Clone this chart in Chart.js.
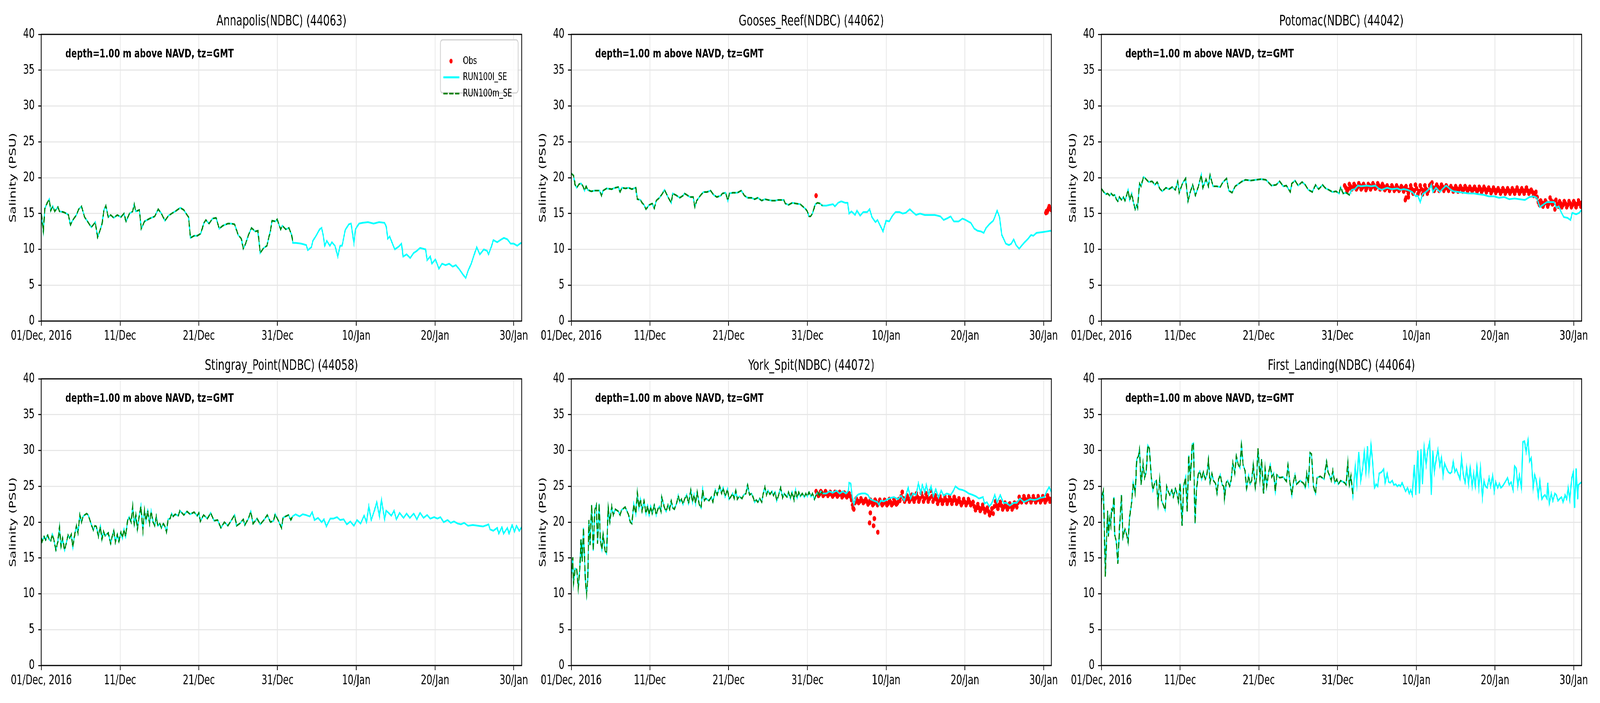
<!DOCTYPE html>
<html>
<head>
<meta charset="utf-8">
<script src="https://cdn.jsdelivr.net/npm/chart.js@4.4.0/dist/chart.umd.min.js"></script>
<style>
html,body{margin:0;padding:0;background:#ffffff;overflow:hidden;}
#wrap{position:absolute;left:0;top:0;width:6000px;height:1800px;overflow:hidden;background:#ffffff;transform-origin:0 0;}
#wrap canvas{position:absolute;}
</style>
</head>
<body>
<div id="wrap"></div>
<script>
// ---------------- DATA (day since 01/Dec/2016 00:00 GMT, salinity PSU) ----------------
const xTickDays = [0, 10, 20, 30, 40, 50, 60];
const xTickLabels = ['01/Dec, 2016', '11/Dec', '21/Dec', '31/Dec', '10/Jan', '20/Jan', '30/Jan'];
const stationTitles = ['Annapolis(NDBC) (44063)', 'Gooses_Reef(NDBC) (44062)', 'Potomac(NDBC) (44042)',
  'Stingray_Point(NDBC) (44058)', 'York_Spit(NDBC) (44072)', 'First_Landing(NDBC) (44064)'];
const seriesNames = ['Obs', 'RUN100l_SE', 'RUN100m_SE'];
const noteText = 'depth=1.00 m above NAVD, tz=GMT';

const annapolisObs = [];
const annapolisRun100l = [[0,15.0],[0.25,12.5],[0.45,15.7],[0.75,16.5],[1.0,17.0],[1.2,15.4],[1.45,16.0],[1.7,15.3],[2.1,15.9],[2.3,15.3],[2.8,15.2],[3.2,15.0],[3.45,14.8],[3.7,13.4],[3.95,14.0],[4.45,14.8],[4.75,15.6],[5.1,16.0],[5.5,14.5],[5.8,14.0],[6.35,13.1],[6.65,13.5],[6.85,13.8],[7.15,11.7],[7.5,12.8],[7.7,13.5],[7.95,15.5],[8.2,16.1],[8.5,14.5],[8.8,14.8],[9.2,14.4],[9.65,14.8],[10.1,14.5],[10.5,15.0],[10.75,13.9],[11.2,15.0],[11.6,15.3],[11.8,16.3],[12.0,15.3],[12.45,15.5],[12.7,12.9],[13.1,13.9],[13.75,14.3],[14.4,14.6],[14.85,15.6],[15.25,15.0],[15.7,14.0],[16.15,14.7],[16.55,15.0],[17.0,15.3],[17.65,15.8],[18.1,15.5],[18.5,14.8],[18.7,14.5],[18.95,11.6],[19.4,11.9],[19.8,11.9],[20.25,12.2],[20.65,13.7],[20.9,14.1],[21.3,13.6],[21.75,14.3],[22.2,14.4],[22.6,12.9],[23.05,13.3],[23.7,13.6],[24.1,13.6],[24.55,13.5],[25.0,12.0],[25.4,11.5],[25.65,10.1],[25.95,10.8],[26.3,12.0],[26.7,13.0],[27.15,12.5],[27.5,12.6],[27.8,9.5],[28.25,10.2],[28.65,10.5],[29.1,12.6],[29.3,14.0],[29.75,13.9],[29.95,14.2],[30.4,12.8],[30.6,13.3],[31.05,12.8],[31.45,13.0],[31.8,12.0],[31.95,10.9],[32.35,10.9],[33.0,10.8],[33.65,10.6],[33.85,9.9],[34.3,10.3],[34.5,11.2],[34.95,12.0],[35.35,12.8],[35.6,13.0],[35.8,12.0],[36.0,10.5],[36.25,11.2],[36.65,10.5],[36.9,11.0],[37.3,10.5],[37.65,9.0],[37.95,10.5],[38.2,10.5],[38.6,12.7],[39.05,13.5],[39.35,13.6],[39.7,10.9],[39.9,12.8],[40.35,13.6],[40.8,13.7],[41.5,13.8],[42.2,13.6],[42.9,13.8],[43.6,13.7],[43.8,13.2],[44.0,11.5],[44.25,11.8],[44.7,10.5],[44.9,10.0],[45.4,10.4],[45.75,10.8],[45.95,9.0],[46.4,9.3],[46.85,8.8],[47.3,9.5],[47.7,9.8],[48.1,10.2],[48.8,10.0],[49.0,8.5],[49.4,9.0],[49.6,8.0],[50.05,8.6],[50.5,7.3],[50.9,8.0],[51.35,7.8],[51.8,8.0],[52.25,7.6],[52.65,7.8],[53.1,7.2],[53.55,6.5],[53.9,6.0],[54.2,7.0],[54.6,8.0],[55.05,9.5],[55.3,10.3],[55.7,9.3],[56.2,10.0],[56.6,9.8],[56.8,9.3],[57.2,10.5],[57.4,11.3],[57.9,11.0],[58.3,11.3],[58.75,11.6],[59.2,11.4],[59.6,10.8],[60.0,10.8],[60.45,10.5],[60.9,10.9],[61.0,10.8]];
const annapolisRun100m = [[0,15.0],[0.25,12.5],[0.45,15.7],[0.75,16.5],[1.0,17.0],[1.2,15.4],[1.45,16.0],[1.7,15.3],[2.1,15.9],[2.3,15.3],[2.8,15.2],[3.2,15.0],[3.45,14.8],[3.7,13.4],[3.95,14.0],[4.45,14.8],[4.75,15.6],[5.1,16.0],[5.5,14.5],[5.8,14.0],[6.35,13.1],[6.65,13.5],[6.85,13.8],[7.15,11.7],[7.5,12.8],[7.7,13.5],[7.95,15.5],[8.2,16.1],[8.5,14.5],[8.8,14.8],[9.2,14.4],[9.65,14.8],[10.1,14.5],[10.5,15.0],[10.75,13.9],[11.2,15.0],[11.6,15.3],[11.8,16.3],[12.0,15.3],[12.45,15.5],[12.7,12.9],[13.1,13.9],[13.75,14.3],[14.4,14.6],[14.85,15.6],[15.25,15.0],[15.7,14.0],[16.15,14.7],[16.55,15.0],[17.0,15.3],[17.65,15.8],[18.1,15.5],[18.5,14.8],[18.7,14.5],[18.95,11.6],[19.4,11.9],[19.8,11.9],[20.25,12.2],[20.65,13.7],[20.9,14.1],[21.3,13.6],[21.75,14.3],[22.2,14.4],[22.6,12.9],[23.05,13.3],[23.7,13.6],[24.1,13.6],[24.55,13.5],[25.0,12.0],[25.4,11.5],[25.65,10.1],[25.95,10.8],[26.3,12.0],[26.7,13.0],[27.15,12.5],[27.5,12.6],[27.8,9.5],[28.25,10.2],[28.65,10.5],[29.1,12.6],[29.3,14.0],[29.75,13.9],[29.95,14.2],[30.4,12.8],[30.6,13.3],[31.05,12.8],[31.45,13.0],[31.8,12.0],[31.95,10.9]];

const goosesObs = [[31.1,17.5],[60.3,15.1],[60.35,15.3],[60.45,15.2],[60.55,15.5],[60.65,15.8],[60.7,16.0],[60.8,15.7],[60.9,15.6],[61.0,15.5]];
const goosesRun100l = [[0,20.6],[0.3,20.3],[0.5,19.0],[0.7,18.6],[1.0,19.1],[1.25,19.2],[1.5,18.8],[1.7,18.2],[1.9,18.8],[2.1,18.3],[2.55,18.1],[3.0,18.2],[3.6,18.2],[3.85,17.5],[4.05,18.2],[4.5,18.5],[5.15,18.4],[5.6,18.6],[6.0,18.7],[6.2,18.0],[6.45,18.6],[6.9,18.5],[7.3,18.6],[7.7,18.4],[8.2,18.6],[8.4,17.0],[8.8,16.9],[9.0,16.5],[9.25,16.2],[9.5,15.6],[9.9,16.2],[10.3,16.4],[10.55,15.7],[10.8,16.8],[11.2,17.2],[11.6,17.8],[11.85,18.3],[12.3,17.3],[12.7,16.5],[12.9,17.8],[13.4,17.5],[13.8,17.2],[14.2,17.5],[14.4,17.8],[15.1,17.3],[15.5,17.3],[15.7,15.9],[15.95,16.8],[16.4,17.5],[16.8,18.0],[17.25,18.0],[17.7,18.2],[18.1,17.6],[18.5,17.3],[19.0,17.5],[19.2,17.8],[19.6,17.9],[19.9,16.8],[20.1,17.8],[20.5,17.9],[21.1,17.9],[21.6,18.2],[22.0,17.5],[22.4,17.2],[22.9,17.2],[23.3,17.0],[23.7,17.2],[24.2,16.8],[24.6,17.0],[25.0,16.9],[25.5,16.8],[25.9,16.8],[26.3,16.9],[27.0,16.9],[27.2,16.4],[27.6,16.2],[28.1,16.5],[28.5,16.4],[29.1,16.3],[29.6,15.8],[29.8,15.6],[30.0,15.3],[30.2,14.6],[30.4,14.6],[30.65,15.0],[31.0,16.3],[31.3,16.5],[31.6,16.4],[31.9,16.1],[32.4,16.1],[32.8,16.2],[33.25,16.3],[33.5,16.0],[33.9,16.5],[34.3,16.7],[34.8,16.5],[35.1,16.5],[35.3,15.0],[35.6,15.3],[36.05,14.8],[36.3,15.4],[36.7,14.7],[37.1,15.2],[37.6,15.2],[37.9,15.6],[38.2,14.5],[38.65,13.8],[38.9,14.1],[39.3,13.2],[39.6,12.5],[40.0,14.0],[40.4,13.9],[40.8,14.7],[41.2,15.2],[41.7,15.2],[42.1,15.0],[42.5,15.1],[43.0,15.6],[43.4,15.2],[43.8,14.8],[44.3,15.0],[44.9,14.8],[45.6,14.8],[46.2,14.8],[46.9,14.6],[47.3,14.1],[47.7,14.3],[48.2,14.6],[48.6,13.9],[49.2,13.9],[49.7,14.3],[50.1,14.1],[50.75,13.7],[51.2,12.9],[51.6,12.6],[52.05,12.5],[52.4,12.3],[52.7,13.0],[53.1,13.5],[53.6,14.0],[53.8,14.5],[54.1,15.4],[54.4,14.5],[54.7,12.0],[55.2,10.8],[55.6,10.6],[55.9,10.8],[56.2,11.4],[56.5,10.6],[56.9,10.1],[57.2,10.5],[57.6,11.0],[58.05,11.5],[58.4,12.0],[58.7,11.9],[59.1,12.3],[59.8,12.4],[60.4,12.5],[60.9,12.6],[61.0,12.5]];
const goosesRun100m = [[0,20.6],[0.3,20.3],[0.5,19.0],[0.7,18.6],[1.0,19.1],[1.25,19.2],[1.5,18.8],[1.7,18.2],[1.9,18.8],[2.1,18.3],[2.55,18.1],[3.0,18.2],[3.6,18.2],[3.85,17.5],[4.05,18.2],[4.5,18.5],[5.15,18.4],[5.6,18.6],[6.0,18.7],[6.2,18.0],[6.45,18.6],[6.9,18.5],[7.3,18.6],[7.7,18.4],[8.2,18.6],[8.4,17.0],[8.8,16.9],[9.0,16.5],[9.25,16.2],[9.5,15.6],[9.9,16.2],[10.3,16.4],[10.55,15.7],[10.8,16.8],[11.2,17.2],[11.6,17.8],[11.85,18.3],[12.3,17.3],[12.7,16.5],[12.9,17.8],[13.4,17.5],[13.8,17.2],[14.2,17.5],[14.4,17.8],[15.1,17.3],[15.5,17.3],[15.7,15.9],[15.95,16.8],[16.4,17.5],[16.8,18.0],[17.25,18.0],[17.7,18.2],[18.1,17.6],[18.5,17.3],[19.0,17.5],[19.2,17.8],[19.6,17.9],[19.9,16.8],[20.1,17.8],[20.5,17.9],[21.1,17.9],[21.6,18.2],[22.0,17.5],[22.4,17.2],[22.9,17.2],[23.3,17.0],[23.7,17.2],[24.2,16.8],[24.6,17.0],[25.0,16.9],[25.5,16.8],[25.9,16.8],[26.3,16.9],[27.0,16.9],[27.2,16.4],[27.6,16.2],[28.1,16.5],[28.5,16.4],[29.1,16.3],[29.6,15.8],[29.8,15.6],[30.0,15.3],[30.2,14.6],[30.4,14.6],[30.65,15.0],[31.0,16.3],[31.3,16.5],[31.6,16.4],[31.9,16.1]];

const potomacObs = [[30.9,18.9],[31.05,18.6],[31.2,18.1],[31.35,18.4],[31.5,19.1],[31.65,18.8],[31.8,18.4],[31.95,18.6],[32.1,19.1],[32.25,18.8],[32.4,18.4],[32.55,18.7],[32.7,19.2],[32.85,18.9],[33.0,18.4],[33.15,18.6],[33.3,19.1],[33.45,18.8],[33.6,18.3],[33.75,18.6],[33.9,19.1],[34.05,18.9],[34.2,18.4],[34.35,18.7],[34.5,19.2],[34.65,18.9],[34.8,18.5],[34.95,18.7],[35.1,19.2],[35.25,18.9],[35.4,18.4],[35.55,18.7],[35.7,19.1],[35.85,18.8],[36.0,18.3],[36.15,18.5],[36.3,18.9],[36.45,18.6],[36.6,18.2],[36.75,18.5],[36.9,18.9],[37.05,18.6],[37.2,18.2],[37.35,18.4],[37.5,18.9],[37.65,18.6],[37.8,18.2],[37.95,18.4],[38.1,18.8],[38.25,18.5],[38.4,18.1],[38.55,18.6],[38.7,18.8],[38.85,18.3],[39.0,17.8],[39.15,18.3],[39.3,18.9],[39.45,18.4],[39.6,17.8],[39.75,18.2],[39.9,19.0],[40.05,18.5],[40.2,17.7],[40.35,18.1],[40.5,18.9],[40.65,18.4],[40.8,17.7],[40.95,18.2],[41.1,18.9],[41.25,18.4],[41.4,17.8],[41.55,18.2],[41.7,18.9],[41.85,19.1],[42.0,19.3],[42.15,18.6],[42.3,18.2],[42.45,18.6],[42.6,19.0],[42.75,18.7],[42.9,18.2],[43.05,18.5],[43.2,19.0],[43.35,18.7],[43.5,18.2],[43.65,18.5],[43.8,18.9],[43.95,18.6],[44.1,18.2],[44.25,18.5],[44.4,18.8],[44.55,18.5],[44.7,18.1],[44.85,18.4],[45.0,18.8],[45.15,18.5],[45.3,18.1],[45.45,18.4],[45.6,18.8],[45.75,18.5],[45.9,18.1],[46.05,18.4],[46.2,18.8],[46.35,18.5],[46.5,18.1],[46.65,18.4],[46.8,18.7],[46.95,18.4],[47.1,18.1],[47.25,18.4],[47.4,18.7],[47.55,18.4],[47.7,18.0],[47.85,18.3],[48.0,18.7],[48.15,18.4],[48.3,18.0],[48.45,18.3],[48.6,18.7],[48.75,18.4],[48.9,18.0],[49.05,18.3],[49.2,18.6],[49.35,18.3],[49.5,17.9],[49.65,18.2],[49.8,18.6],[49.95,18.3],[50.1,17.9],[50.25,18.2],[50.4,18.5],[50.55,18.2],[50.7,17.8],[50.85,18.1],[51.0,18.5],[51.15,18.2],[51.3,17.8],[51.45,18.1],[51.6,18.5],[51.75,18.2],[51.9,17.8],[52.05,18.1],[52.2,18.5],[52.35,18.2],[52.5,17.8],[52.65,18.2],[52.8,18.6],[52.95,18.2],[53.1,17.8],[53.25,18.1],[53.4,18.5],[53.55,18.2],[53.7,17.8],[53.85,18.2],[54.0,18.6],[54.15,18.2],[54.3,17.8],[54.45,18.1],[54.6,18.3],[54.75,18.0],[54.9,17.5],[55.05,17.8],[55.2,18.0],[55.35,17.3],[55.5,16.6],[55.65,16.2],[55.8,16.8],[55.95,16.5],[56.1,16.0],[56.25,16.4],[56.4,16.8],[56.55,16.5],[56.7,16.0],[56.85,16.4],[57.0,17.2],[57.15,16.8],[57.3,16.3],[57.45,16.6],[57.6,15.6],[57.75,16.9],[57.9,16.3],[58.05,16.0],[58.2,16.7],[58.35,16.4],[58.5,15.9],[58.65,16.2],[58.8,16.7],[58.95,16.4],[59.1,15.9],[59.25,16.2],[59.4,16.7],[59.55,16.4],[59.7,15.9],[59.85,16.2],[60.0,16.7],[60.15,16.4],[60.3,15.9],[60.45,16.3],[60.6,16.8],[60.75,16.4],[60.9,16.0],[61.0,16.5],[38.6,16.9],[38.7,17.2],[39.0,17.3]];
const potomacRun100l = [[0,18.5],[0.3,18.0],[0.6,17.7],[0.8,17.8],[1.05,17.5],[1.25,17.8],[1.5,17.5],[1.7,17.6],[1.9,17.0],[2.1,16.7],[2.3,17.3],[2.55,16.9],[2.8,17.3],[3.0,16.8],[3.2,17.5],[3.4,18.3],[3.6,16.9],[3.85,17.8],[4.05,16.7],[4.3,15.6],[4.5,16.2],[4.6,15.8],[4.85,19.2],[5.05,18.8],[5.35,20.1],[5.6,19.9],[6.0,19.4],[6.45,19.5],[6.8,19.0],[7.1,19.4],[7.4,18.5],[7.75,18.1],[8.2,18.6],[8.6,18.4],[9.0,18.7],[9.4,18.3],[9.7,19.5],[9.9,17.9],[10.3,19.2],[10.7,19.9],[11.0,16.7],[11.3,18.0],[11.6,19.0],[11.95,17.5],[12.3,18.7],[12.7,20.4],[12.9,18.6],[13.3,19.8],[13.6,18.8],[13.8,20.4],[14.2,18.8],[14.65,18.8],[15.1,18.7],[15.4,19.3],[15.9,19.9],[16.2,18.2],[16.6,17.9],[17.0,18.8],[17.5,19.2],[17.9,19.5],[18.3,19.7],[19.0,19.6],[19.6,19.7],[20.3,19.8],[20.9,19.7],[21.1,19.5],[21.6,18.9],[22.2,19.0],[22.65,19.5],[23.1,18.8],[23.5,18.9],[24.0,18.0],[24.2,19.2],[24.6,19.6],[25.0,18.9],[25.5,19.4],[25.9,19.0],[26.3,18.3],[26.8,18.0],[27.2,19.0],[27.6,18.4],[28.1,19.0],[28.5,18.5],[28.9,18.3],[29.35,18.0],[29.8,18.1],[30.2,17.8],[30.4,18.7],[30.7,17.8],[31.1,17.9],[31.5,17.6],[31.8,18.3],[32.2,18.4],[32.6,18.9],[33.0,18.8],[33.7,18.9],[34.3,18.8],[34.8,18.9],[35.2,18.5],[35.6,18.3],[36.3,18.6],[36.9,18.4],[37.6,18.5],[38.0,18.3],[38.4,18.4],[38.9,18.3],[39.5,18.0],[39.95,17.4],[40.2,17.5],[40.5,16.6],[40.8,17.7],[41.2,18.0],[41.7,18.5],[41.9,19.0],[42.1,18.0],[42.5,18.6],[43.0,18.0],[43.4,18.5],[43.8,18.9],[44.3,18.4],[44.7,18.1],[45.4,18.0],[46.0,17.9],[46.65,17.8],[47.3,17.8],[47.9,17.7],[48.6,17.6],[49.2,17.4],[49.9,17.4],[50.5,17.2],[51.2,17.3],[51.8,17.0],[52.5,17.1],[53.1,17.0],[53.8,16.9],[54.4,17.3],[54.9,17.4],[55.3,17.2],[55.7,15.9],[56.2,16.3],[56.6,16.6],[57.0,16.6],[57.5,16.6],[57.8,15.8],[58.1,16.0],[58.4,15.2],[58.75,14.5],[59.2,14.4],[59.6,14.1],[59.8,15.1],[60.3,14.9],[60.7,15.1],[61.0,15.5]];
const potomacRun100m = [[0,18.5],[0.3,18.0],[0.6,17.7],[0.8,17.8],[1.05,17.5],[1.25,17.8],[1.5,17.5],[1.7,17.6],[1.9,17.0],[2.1,16.7],[2.3,17.3],[2.55,16.9],[2.8,17.3],[3.0,16.8],[3.2,17.5],[3.4,18.3],[3.6,16.9],[3.85,17.8],[4.05,16.7],[4.3,15.6],[4.5,16.2],[4.6,15.8],[4.85,19.2],[5.05,18.8],[5.35,20.1],[5.6,19.9],[6.0,19.4],[6.45,19.5],[6.8,19.0],[7.1,19.4],[7.4,18.5],[7.75,18.1],[8.2,18.6],[8.6,18.4],[9.0,18.7],[9.4,18.3],[9.7,19.5],[9.9,17.9],[10.3,19.2],[10.7,19.9],[11.0,16.7],[11.3,18.0],[11.6,19.0],[11.95,17.5],[12.3,18.7],[12.7,20.4],[12.9,18.6],[13.3,19.8],[13.6,18.8],[13.8,20.4],[14.2,18.8],[14.65,18.8],[15.1,18.7],[15.4,19.3],[15.9,19.9],[16.2,18.2],[16.6,17.9],[17.0,18.8],[17.5,19.2],[17.9,19.5],[18.3,19.7],[19.0,19.6],[19.6,19.7],[20.3,19.8],[20.9,19.7],[21.1,19.5],[21.6,18.9],[22.2,19.0],[22.65,19.5],[23.1,18.8],[23.5,18.9],[24.0,18.0],[24.2,19.2],[24.6,19.6],[25.0,18.9],[25.5,19.4],[25.9,19.0],[26.3,18.3],[26.8,18.0],[27.2,19.0],[27.6,18.4],[28.1,19.0],[28.5,18.5],[28.9,18.3],[29.35,18.0],[29.8,18.1],[30.2,17.8],[30.4,18.7],[30.7,17.8],[31.1,17.9],[31.5,17.6],[31.8,17.8]];

const stingrayObs = [];
const stingrayRun100l = [[0,17.8],[0.1,17.3],[0.35,18.0],[0.55,17.5],[0.8,18.2],[1.0,17.6],[1.2,17.4],[1.4,18.3],[1.6,17.5],[1.85,16.1],[2.1,17.3],[2.3,19.3],[2.5,16.6],[2.7,17.8],[2.95,16.1],[3.15,17.0],[3.4,18.2],[3.6,17.8],[3.8,18.3],[4.0,16.5],[4.2,18.0],[4.45,19.5],[4.65,18.5],[4.9,21.0],[5.1,20.0],[5.3,20.8],[5.5,21.0],[5.75,21.2],[5.95,21.0],[6.2,20.2],[6.4,19.5],[6.6,18.9],[6.8,19.5],[7.0,19.4],[7.25,18.0],[7.5,19.4],[7.7,17.6],[7.9,18.7],[8.1,18.1],[8.5,18.5],[8.8,17.0],[9.0,18.0],[9.2,18.8],[9.4,17.2],[9.65,18.3],[9.85,17.3],[10.1,18.6],[10.3,17.8],[10.5,19.0],[10.7,18.0],[10.95,20.2],[11.15,20.7],[11.4,20.0],[11.6,22.2],[11.8,19.7],[12.0,21.0],[12.2,19.0],[12.45,21.0],[12.65,22.2],[12.9,18.9],[13.1,21.7],[13.3,20.2],[13.5,21.6],[13.75,19.8],[13.95,21.5],[14.2,20.0],[14.4,19.5],[14.6,20.8],[14.8,19.5],[15.05,19.8],[15.25,19.2],[15.5,19.8],[15.7,19.4],[15.9,18.6],[16.1,20.4],[16.35,20.5],[16.55,21.2],[16.75,20.8],[17.0,21.1],[17.4,20.9],[17.6,21.6],[18.1,21.0],[18.5,21.5],[18.9,21.1],[19.4,21.4],[19.8,20.9],[20.0,21.3],[20.2,20.1],[20.6,21.0],[21.1,20.5],[21.5,21.3],[21.95,20.2],[22.4,20.3],[22.8,19.2],[23.25,20.0],[23.7,19.5],[24.1,20.2],[24.55,21.0],[24.8,19.5],[25.2,19.8],[25.65,20.4],[25.85,19.6],[26.3,20.5],[26.6,21.5],[26.9,19.8],[27.4,20.5],[27.8,19.7],[28.2,20.2],[28.7,21.0],[29.1,20.0],[29.5,20.2],[29.7,21.1],[30.2,20.0],[30.5,19.2],[30.7,20.6],[31.0,20.8],[31.4,21.0],[31.7,20.3],[31.9,20.8],[32.3,21.1],[32.8,20.8],[33.2,21.1],[33.6,21.0],[34.1,20.8],[34.4,21.4],[34.7,20.3],[35.15,20.6],[35.6,20.0],[35.9,20.4],[36.2,19.4],[36.7,20.5],[37.1,20.5],[37.55,20.7],[37.95,20.3],[38.4,20.4],[38.8,19.7],[39.25,20.1],[39.7,19.5],[40.1,20.3],[40.55,19.8],[41.0,20.9],[41.3,20.0],[41.6,22.2],[41.9,20.3],[42.3,21.6],[42.6,22.8],[42.95,20.8],[43.2,23.1],[43.6,20.4],[43.8,21.6],[44.2,21.2],[44.45,20.9],[44.8,21.6],[45.1,20.4],[45.5,21.3],[46.0,20.6],[46.4,21.2],[46.8,20.6],[47.3,21.2],[47.7,20.4],[48.1,21.3],[48.55,20.6],[49.0,21.0],[49.4,20.5],[49.9,20.7],[50.3,20.5],[50.7,20.7],[51.1,20.0],[51.6,20.3],[52.0,19.9],[52.4,20.1],[52.9,19.8],[53.3,19.7],[53.7,19.9],[54.2,19.5],[54.8,19.6],[55.5,19.5],[56.1,19.4],[56.6,19.6],[56.8,19.7],[57.0,19.0],[57.4,18.8],[57.9,19.2],[58.1,18.4],[58.5,19.3],[58.7,18.4],[59.2,19.2],[59.4,18.4],[59.8,19.6],[60.1,18.7],[60.35,19.5],[60.7,18.8],[61.0,19.3]];
const stingrayRun100m = [[0,17.8],[0.1,17.3],[0.35,18.0],[0.55,17.5],[0.8,18.2],[1.0,17.6],[1.2,17.4],[1.4,18.3],[1.6,17.5],[1.85,16.1],[2.1,17.3],[2.3,19.3],[2.5,16.6],[2.7,17.8],[2.95,16.1],[3.15,17.0],[3.4,18.2],[3.6,17.8],[3.8,18.3],[4.0,16.5],[4.2,18.0],[4.45,19.5],[4.65,18.5],[4.9,21.0],[5.1,20.0],[5.3,20.8],[5.5,21.0],[5.75,21.2],[5.95,21.0],[6.2,20.2],[6.4,19.5],[6.6,18.9],[6.8,19.5],[7.0,19.4],[7.25,18.0],[7.5,19.4],[7.7,17.6],[7.9,18.7],[8.1,18.1],[8.5,18.5],[8.8,17.0],[9.0,18.0],[9.2,18.8],[9.4,17.2],[9.65,18.3],[9.85,17.3],[10.1,18.6],[10.3,17.8],[10.5,19.0],[10.7,18.0],[10.95,20.2],[11.15,20.7],[11.4,20.0],[11.6,22.2],[11.8,19.7],[12.0,21.0],[12.2,19.0],[12.45,21.0],[12.65,22.2],[12.9,18.9],[13.1,21.7],[13.3,20.2],[13.5,21.6],[13.75,19.8],[13.95,21.5],[14.2,20.0],[14.4,19.5],[14.6,20.8],[14.8,19.5],[15.05,19.8],[15.25,19.2],[15.5,19.8],[15.7,19.4],[15.9,18.6],[16.1,20.4],[16.35,20.5],[16.55,21.2],[16.75,20.8],[17.0,21.1],[17.4,20.9],[17.6,21.6],[18.1,21.0],[18.5,21.5],[18.9,21.1],[19.4,21.4],[19.8,20.9],[20.0,21.3],[20.2,20.1],[20.6,21.0],[21.1,20.5],[21.5,21.3],[21.95,20.2],[22.4,20.3],[22.8,19.2],[23.25,20.0],[23.7,19.5],[24.1,20.2],[24.55,21.0],[24.8,19.5],[25.2,19.8],[25.65,20.4],[25.85,19.6],[26.3,20.5],[26.6,21.5],[26.9,19.8],[27.4,20.5],[27.8,19.7],[28.2,20.2],[28.7,21.0],[29.1,20.0],[29.5,20.2],[29.7,21.1],[30.2,20.0],[30.5,19.2],[30.7,20.6],[31.0,20.8],[31.4,21.0],[31.7,20.3],[31.9,20.8]];

const yorkObs = [[31.1,24.3],[31.25,24.0],[31.4,23.7],[31.55,23.9],[31.7,24.3],[31.85,24.1],[32.0,23.7],[32.15,23.9],[32.3,24.3],[32.45,24.0],[32.6,23.7],[32.75,23.9],[32.9,24.2],[33.05,23.9],[33.2,23.6],[33.35,23.8],[33.5,24.2],[33.65,23.9],[33.8,23.6],[33.95,23.8],[34.1,24.2],[34.25,23.9],[34.4,23.5],[34.55,23.7],[34.7,24.1],[34.85,23.8],[35.0,23.5],[35.15,23.7],[35.3,24.0],[35.45,23.6],[35.6,23.1],[35.75,22.4],[35.9,21.8],[36.05,22.7],[36.2,23.3],[36.35,23.0],[36.5,22.7],[36.65,22.9],[36.8,23.3],[36.95,23.0],[37.1,22.7],[37.25,22.9],[37.4,23.2],[37.55,22.9],[37.7,22.5],[37.85,22.7],[38.0,23.1],[38.15,22.8],[38.3,22.4],[38.45,22.6],[38.6,23.1],[38.75,22.8],[38.9,22.4],[39.05,22.6],[39.2,23.1],[39.35,22.8],[39.5,22.4],[39.65,22.6],[39.8,23.1],[39.95,22.8],[40.1,22.4],[40.25,22.6],[40.4,23.2],[40.55,22.8],[40.7,22.4],[40.85,22.6],[41.0,23.2],[41.15,22.8],[41.3,22.5],[41.45,22.7],[41.6,23.2],[41.75,23.0],[41.9,23.6],[42.05,24.2],[42.2,23.3],[42.35,22.9],[42.5,23.2],[42.65,23.7],[42.8,23.3],[42.95,22.9],[43.1,23.2],[43.25,23.8],[43.4,23.3],[43.55,22.9],[43.7,23.3],[43.85,24.0],[44.0,23.5],[44.15,22.9],[44.3,23.3],[44.45,24.1],[44.6,23.6],[44.75,22.9],[44.9,23.3],[45.05,24.0],[45.2,23.5],[45.35,22.9],[45.5,23.3],[45.65,24.4],[45.8,23.6],[45.95,22.9],[46.1,23.3],[46.25,23.7],[46.4,23.2],[46.55,22.6],[46.7,23.0],[46.85,23.6],[47.0,23.1],[47.15,22.6],[47.3,23.0],[47.45,23.6],[47.6,23.1],[47.75,22.6],[47.9,23.0],[48.05,23.6],[48.2,23.1],[48.35,22.6],[48.5,23.0],[48.65,23.5],[48.8,23.1],[48.95,22.6],[49.1,22.9],[49.25,23.3],[49.4,22.8],[49.55,22.4],[49.7,22.7],[49.85,23.2],[50.0,22.8],[50.15,22.4],[50.3,22.7],[50.45,23.2],[50.6,22.8],[50.75,22.4],[50.9,22.6],[51.05,22.8],[51.2,22.2],[51.35,21.7],[51.5,22.0],[51.65,22.5],[51.8,22.0],[51.95,21.6],[52.1,21.9],[52.25,22.4],[52.4,21.9],[52.55,21.4],[52.7,21.7],[52.85,22.0],[53.0,21.5],[53.15,21.0],[53.3,21.3],[53.45,21.9],[53.6,21.2],[53.75,22.2],[53.9,22.9],[54.05,22.3],[54.2,21.9],[54.35,22.4],[54.5,22.8],[54.65,22.3],[54.8,21.8],[54.95,22.1],[55.1,22.7],[55.25,22.2],[55.4,21.8],[55.55,22.1],[55.7,22.6],[55.85,22.2],[56.0,21.8],[56.15,22.1],[56.3,22.7],[56.45,22.4],[56.6,22.1],[56.75,22.7],[56.9,23.5],[57.05,23.1],[57.2,22.8],[57.35,23.1],[57.5,23.6],[57.65,23.2],[57.8,22.8],[57.95,23.1],[58.1,23.6],[58.25,23.2],[58.4,22.8],[58.55,23.1],[58.7,23.6],[58.85,23.2],[59.0,22.8],[59.15,23.1],[59.3,23.6],[59.45,23.2],[59.6,22.8],[59.75,23.1],[59.9,23.6],[60.05,23.2],[60.2,22.8],[60.35,23.1],[60.5,23.7],[60.65,23.3],[60.8,22.9],[60.95,23.2],[35.8,22.0],[37.9,19.9],[38.0,21.3],[38.4,19.5],[38.5,20.5],[38.95,18.6]];
const yorkRun100l = [[0,12.2],[0.2,15.1],[0.3,11.5],[0.5,13.5],[0.7,13.4],[0.9,10.8],[1.1,13.5],[1.25,17.6],[1.4,14.5],[1.55,19.2],[1.7,15.0],[1.8,12.0],[1.95,10.0],[2.1,12.0],[2.25,20.3],[2.4,16.8],[2.6,22.4],[2.8,16.0],[3.0,21.7],[3.2,22.4],[3.35,17.0],[3.55,22.6],[3.7,17.5],[3.9,16.2],[4.05,18.3],[4.3,16.0],[4.5,15.6],[4.7,22.0],[4.9,20.0],[5.15,22.2],[5.35,21.0],[5.6,21.8],[6.0,21.5],[6.2,21.0],[6.4,21.7],[6.85,22.1],[7.1,21.5],[7.3,21.0],[7.5,20.0],[7.7,19.8],[7.95,22.5],[8.2,21.2],[8.4,24.1],[8.6,22.0],[8.8,23.2],[9.0,21.6],[9.25,23.0],[9.5,21.2],[9.7,22.3],[9.9,21.0],[10.1,22.2],[10.3,21.2],[10.55,22.4],[10.8,21.0],[11.0,21.8],[11.2,22.2],[11.4,21.5],[11.5,23.5],[11.85,22.0],[12.05,21.5],[12.3,22.4],[12.5,21.8],[12.7,23.0],[12.9,22.0],[13.1,21.8],[13.4,22.7],[13.6,23.7],[13.8,22.8],[14.0,23.2],[14.2,22.5],[14.4,23.2],[14.65,23.8],[14.9,22.6],[15.2,24.5],[15.4,22.8],[15.6,23.8],[15.8,22.6],[16.0,24.2],[16.25,22.5],[16.5,22.0],[16.7,24.5],[16.9,23.0],[17.1,23.3],[17.5,23.0],[17.8,23.5],[18.0,22.8],[18.3,24.5],[18.55,23.8],[18.85,25.0],[19.1,24.0],[19.3,24.8],[19.55,23.6],[19.85,24.6],[20.05,23.2],[20.3,23.6],[20.5,24.0],[20.7,23.3],[20.9,24.4],[21.1,23.2],[21.35,23.6],[21.7,23.3],[21.9,23.8],[22.2,24.0],[22.4,25.2],[22.65,23.8],[22.9,24.0],[23.1,23.5],[23.3,22.8],[23.5,23.1],[23.7,22.8],[23.95,23.3],[24.2,22.8],[24.4,24.0],[24.6,24.9],[24.8,23.8],[25.0,24.4],[25.25,23.9],[25.5,24.3],[25.7,23.7],[25.9,24.2],[26.1,23.0],[26.3,23.6],[26.6,24.8],[26.85,23.4],[27.05,24.0],[27.4,23.5],[27.6,24.2],[27.85,23.3],[28.05,24.2],[28.3,23.1],[28.5,24.5],[28.7,23.4],[28.9,24.2],[29.1,23.6],[29.35,24.0],[29.6,23.5],[29.8,24.0],[30.0,23.6],[30.2,24.2],[30.45,23.6],[30.65,24.0],[30.9,23.2],[31.1,23.8],[31.3,24.2],[31.5,23.8],[31.7,24.3],[31.95,24.0],[32.4,24.0],[32.8,24.3],[33.2,24.1],[33.7,24.4],[34.1,24.0],[34.5,24.3],[34.9,24.0],[35.2,24.4],[35.3,25.5],[35.5,25.4],[35.7,23.5],[35.9,22.5],[36.2,23.6],[36.5,23.9],[36.9,24.0],[37.35,24.0],[37.7,23.8],[38.0,23.2],[38.4,23.0],[38.9,22.8],[39.1,22.4],[39.3,23.0],[39.7,22.9],[40.2,23.2],[40.6,23.4],[41.0,23.5],[41.5,23.2],[41.9,23.7],[42.3,23.0],[42.8,24.8],[43.1,23.3],[43.4,24.0],[43.8,23.8],[44.1,25.4],[44.4,24.0],[44.6,25.2],[44.9,24.2],[45.1,25.2],[45.4,23.8],[45.7,25.0],[46.0,23.6],[46.3,24.6],[46.65,23.4],[47.0,24.4],[47.3,23.7],[47.7,24.0],[48.2,23.8],[48.5,24.3],[48.8,25.0],[49.25,24.6],[49.7,24.5],[50.1,24.3],[50.5,24.0],[51.0,23.8],[51.4,23.6],[51.8,23.3],[52.3,23.5],[52.5,22.6],[52.8,22.8],[53.1,22.2],[53.4,22.6],[53.8,23.8],[54.1,22.8],[54.5,23.8],[54.9,22.7],[55.3,22.7],[55.7,22.3],[56.2,22.7],[56.6,22.7],[57.0,23.3],[57.5,22.8],[57.9,23.0],[58.3,23.2],[58.8,23.1],[59.2,23.2],[59.6,23.4],[60.1,23.5],[60.4,24.3],[60.7,24.9],[61.0,24.2]];
const yorkRun100m = [[0,12.2],[0.2,15.1],[0.3,11.5],[0.5,13.5],[0.7,13.4],[0.9,10.8],[1.1,13.5],[1.25,17.6],[1.4,14.5],[1.55,19.2],[1.7,15.0],[1.8,12.0],[1.95,10.0],[2.1,12.0],[2.25,20.3],[2.4,16.8],[2.6,22.4],[2.8,16.0],[3.0,21.7],[3.2,22.4],[3.35,17.0],[3.55,22.6],[3.7,17.5],[3.9,16.2],[4.05,18.3],[4.3,16.0],[4.5,15.6],[4.7,22.0],[4.9,20.0],[5.15,22.2],[5.35,21.0],[5.6,21.8],[6.0,21.5],[6.2,21.0],[6.4,21.7],[6.85,22.1],[7.1,21.5],[7.3,21.0],[7.5,20.0],[7.7,19.8],[7.95,22.5],[8.2,21.2],[8.4,24.1],[8.6,22.0],[8.8,23.2],[9.0,21.6],[9.25,23.0],[9.5,21.2],[9.7,22.3],[9.9,21.0],[10.1,22.2],[10.3,21.2],[10.55,22.4],[10.8,21.0],[11.0,21.8],[11.2,22.2],[11.4,21.5],[11.5,23.5],[11.85,22.0],[12.05,21.5],[12.3,22.4],[12.5,21.8],[12.7,23.0],[12.9,22.0],[13.1,21.8],[13.4,22.7],[13.6,23.7],[13.8,22.8],[14.0,23.2],[14.2,22.5],[14.4,23.2],[14.65,23.8],[14.9,22.6],[15.2,24.5],[15.4,22.8],[15.6,23.8],[15.8,22.6],[16.0,24.2],[16.25,22.5],[16.5,22.0],[16.7,24.5],[16.9,23.0],[17.1,23.3],[17.5,23.0],[17.8,23.5],[18.0,22.8],[18.3,24.5],[18.55,23.8],[18.85,25.0],[19.1,24.0],[19.3,24.8],[19.55,23.6],[19.85,24.6],[20.05,23.2],[20.3,23.6],[20.5,24.0],[20.7,23.3],[20.9,24.4],[21.1,23.2],[21.35,23.6],[21.7,23.3],[21.9,23.8],[22.2,24.0],[22.4,25.2],[22.65,23.8],[22.9,24.0],[23.1,23.5],[23.3,22.8],[23.5,23.1],[23.7,22.8],[23.95,23.3],[24.2,22.8],[24.4,24.0],[24.6,24.9],[24.8,23.8],[25.0,24.4],[25.25,23.9],[25.5,24.3],[25.7,23.7],[25.9,24.2],[26.1,23.0],[26.3,23.6],[26.6,24.8],[26.85,23.4],[27.05,24.0],[27.4,23.5],[27.6,24.2],[27.85,23.3],[28.05,24.2],[28.3,23.1],[28.5,24.5],[28.7,23.4],[28.9,24.2],[29.1,23.6],[29.35,24.0],[29.6,23.5],[29.8,24.0],[30.0,23.6],[30.2,24.2],[30.45,23.6],[30.65,24.0],[30.9,23.2],[31.1,23.8],[31.3,24.2],[31.5,23.8],[31.7,24.3],[31.95,24.0]];

const firstLandingObs = [];
const firstLandingRun100l = [[0,22.5],[0.13,23.8],[0.26,24.4],[0.4,18.0],[0.5,12.4],[0.65,17.0],[0.8,21.6],[0.9,18.0],[1.05,20.5],[1.2,19.5],[1.3,21.8],[1.45,21.6],[1.6,23.5],[1.7,18.2],[1.9,17.3],[2.1,14.2],[2.3,19.0],[2.55,23.8],[2.75,17.9],[3.0,19.0],[3.2,18.3],[3.4,17.2],[3.6,20.8],[3.85,22.8],[4.05,25.5],[4.3,24.0],[4.5,28.8],[4.7,29.2],[4.85,30.2],[5.05,25.2],[5.3,28.2],[5.5,26.2],[5.7,27.0],[5.9,30.7],[6.1,30.3],[6.35,26.3],[6.55,24.5],[6.8,25.6],[7.0,25.8],[7.2,22.7],[7.4,26.0],[7.65,23.0],[7.85,22.5],[8.1,21.7],[8.3,25.0],[8.5,24.3],[8.7,23.8],[8.95,24.5],[9.15,23.5],[9.4,24.7],[9.6,24.0],[9.8,22.8],[10.0,25.4],[10.25,19.5],[10.45,25.0],[10.7,26.2],[10.9,21.5],[11.1,29.3],[11.3,25.8],[11.55,30.9],[11.7,31.0],[11.9,19.8],[12.1,24.6],[12.3,26.7],[12.5,27.1],[12.75,26.0],[12.95,27.0],[13.2,26.0],[13.4,26.5],[13.6,28.6],[13.8,25.5],[14.05,26.8],[14.25,25.8],[14.5,25.4],[14.7,24.0],[14.9,26.0],[15.1,26.6],[15.35,25.2],[15.55,25.0],[15.65,23.3],[15.85,25.5],[16.05,25.8],[16.3,25.0],[16.5,26.0],[16.7,28.3],[16.95,26.8],[17.15,29.2],[17.4,28.0],[17.6,27.6],[17.8,30.8],[18.0,28.0],[18.25,27.2],[18.45,24.7],[18.7,26.5],[18.9,25.3],[19.1,25.8],[19.3,28.0],[19.55,24.8],[19.75,26.5],[19.9,30.3],[20.15,26.0],[20.35,28.8],[20.6,24.0],[20.8,27.5],[21.0,25.0],[21.2,26.5],[21.45,28.0],[21.65,26.3],[21.9,26.8],[22.1,24.3],[22.3,26.6],[22.65,26.2],[23.1,26.3],[23.5,25.7],[23.7,28.0],[23.95,25.6],[24.2,23.8],[24.4,25.6],[24.6,26.6],[24.8,25.3],[25.25,25.8],[25.7,25.4],[25.9,24.8],[26.1,26.8],[26.3,25.4],[26.5,29.7],[26.7,29.5],[26.95,25.0],[27.2,24.0],[27.4,26.2],[27.8,26.4],[28.3,26.0],[28.6,28.5],[28.8,27.0],[29.0,26.5],[29.2,25.8],[29.4,27.2],[29.65,25.5],[29.9,26.0],[30.1,25.3],[30.4,25.8],[30.9,25.5],[31.1,25.2],[31.3,28.3],[31.5,25.2],[31.7,26.5],[31.95,23.8],[32.25,27.8],[32.45,25.3],[32.7,29.8],[32.95,25.8],[33.2,27.5],[33.4,29.8],[33.6,27.0],[33.8,30.6],[34.0,27.2],[34.25,30.8],[34.45,28.5],[34.7,24.8],[34.9,25.3],[35.1,25.0],[35.3,26.8],[35.6,27.0],[35.85,27.4],[36.05,25.5],[36.3,26.8],[36.5,25.6],[36.7,25.5],[36.95,25.8],[37.15,25.2],[37.4,25.3],[37.6,25.0],[37.8,25.2],[38.0,25.0],[38.2,25.5],[38.45,24.8],[38.65,24.3],[38.9,24.8],[39.1,24.0],[39.3,24.5],[39.5,23.8],[39.75,28.0],[39.95,23.8],[40.2,30.0],[40.4,24.0],[40.6,30.2],[40.8,25.3],[41.0,30.5],[41.25,28.0],[41.45,30.0],[41.7,31.2],[41.9,23.8],[42.1,30.0],[42.3,27.0],[42.55,29.0],[42.75,30.1],[43.0,27.8],[43.2,29.0],[43.4,26.5],[43.6,28.2],[43.85,27.5],[44.05,27.0],[44.3,26.8],[44.5,27.0],[44.7,28.4],[44.9,27.0],[45.1,27.4],[45.35,26.6],[45.55,26.0],[45.75,29.0],[46.0,26.5],[46.2,25.5],[46.4,27.6],[46.65,25.3],[46.85,27.6],[47.1,25.0],[47.3,26.8],[47.5,25.0],[47.7,27.8],[47.95,24.8],[48.15,27.5],[48.4,23.5],[48.6,25.8],[48.8,25.0],[49.0,24.8],[49.25,26.2],[49.45,25.0],[49.7,26.5],[49.9,24.3],[50.1,25.6],[50.35,24.8],[50.55,25.4],[50.75,24.8],[50.95,25.0],[51.4,25.8],[51.6,26.2],[51.8,25.2],[52.05,25.6],[52.3,24.5],[52.5,27.8],[52.7,27.5],[52.9,25.0],[53.1,26.5],[53.35,24.8],[53.55,31.2],[53.75,31.3],[53.95,29.8],[54.2,31.5],[54.4,28.5],[54.6,29.0],[54.85,24.8],[55.05,26.6],[55.25,25.8],[55.5,23.5],[55.7,25.8],[55.95,23.2],[56.15,23.6],[56.35,23.8],[56.6,23.3],[56.7,25.5],[56.9,22.6],[57.15,24.0],[57.35,23.0],[57.6,24.0],[57.8,23.8],[58.0,23.0],[58.25,23.3],[58.45,23.5],[58.65,22.8],[58.9,23.8],[59.1,23.2],[59.3,24.8],[59.5,23.2],[59.75,26.2],[59.95,27.0],[60.1,22.0],[60.3,27.5],[60.5,23.2],[60.6,25.2],[60.8,25.4],[61.0,25.6]];
const firstLandingRun100m = [[0,22.5],[0.13,23.8],[0.26,24.4],[0.4,18.0],[0.5,12.4],[0.65,17.0],[0.8,21.6],[0.9,18.0],[1.05,20.5],[1.2,19.5],[1.3,21.8],[1.45,21.6],[1.6,23.5],[1.7,18.2],[1.9,17.3],[2.1,14.2],[2.3,19.0],[2.55,23.8],[2.75,17.9],[3.0,19.0],[3.2,18.3],[3.4,17.2],[3.6,20.8],[3.85,22.8],[4.05,25.5],[4.3,24.0],[4.5,28.8],[4.7,29.2],[4.85,30.2],[5.05,25.2],[5.3,28.2],[5.5,26.2],[5.7,27.0],[5.9,30.7],[6.1,30.3],[6.35,26.3],[6.55,24.5],[6.8,25.6],[7.0,25.8],[7.2,22.7],[7.4,26.0],[7.65,23.0],[7.85,22.5],[8.1,21.7],[8.3,25.0],[8.5,24.3],[8.7,23.8],[8.95,24.5],[9.15,23.5],[9.4,24.7],[9.6,24.0],[9.8,22.8],[10.0,25.4],[10.25,19.5],[10.45,25.0],[10.7,26.2],[10.9,21.5],[11.1,29.3],[11.3,25.8],[11.55,30.9],[11.7,31.0],[11.9,19.8],[12.1,24.6],[12.3,26.7],[12.5,27.1],[12.75,26.0],[12.95,27.0],[13.2,26.0],[13.4,26.5],[13.6,28.6],[13.8,25.5],[14.05,26.8],[14.25,25.8],[14.5,25.4],[14.7,24.0],[14.9,26.0],[15.1,26.6],[15.35,25.2],[15.55,25.0],[15.65,23.3],[15.85,25.5],[16.05,25.8],[16.3,25.0],[16.5,26.0],[16.7,28.3],[16.95,26.8],[17.15,29.2],[17.4,28.0],[17.6,27.6],[17.8,30.8],[18.0,28.0],[18.25,27.2],[18.45,24.7],[18.7,26.5],[18.9,25.3],[19.1,25.8],[19.3,28.0],[19.55,24.8],[19.75,26.5],[19.9,30.3],[20.15,26.0],[20.35,28.8],[20.6,24.0],[20.8,27.5],[21.0,25.0],[21.2,26.5],[21.45,28.0],[21.65,26.3],[21.9,26.8],[22.1,24.3],[22.3,26.6],[22.65,26.2],[23.1,26.3],[23.5,25.7],[23.7,28.0],[23.95,25.6],[24.2,23.8],[24.4,25.6],[24.6,26.6],[24.8,25.3],[25.25,25.8],[25.7,25.4],[25.9,24.8],[26.1,26.8],[26.3,25.4],[26.5,29.7],[26.7,29.5],[26.95,25.0],[27.2,24.0],[27.4,26.2],[27.8,26.4],[28.3,26.0],[28.6,28.5],[28.8,27.0],[29.0,26.5],[29.2,25.8],[29.4,27.2],[29.65,25.5],[29.9,26.0],[30.1,25.3],[30.4,25.8],[30.9,25.5],[31.1,25.2],[31.3,28.3],[31.5,25.2],[31.7,26.5],[31.95,23.8]];

// ---------------- LAYOUT / STYLE ----------------
const FONT = 'DejaVu Sans';
const PAGE_W = 6000, PAGE_H = 1800;
const CANVAS_W = 1996, CANVAS_H = 897;
const COL_LEFT = [0, 1987, 3975];
const ROW_TOP = [0, 882];
const GRID_COLOR = '#e6e6e6';

// map the 6000x1800 design onto the whole browser window
const viewW = window.innerWidth || document.documentElement.clientWidth || PAGE_W;
const viewH = window.innerHeight || document.documentElement.clientHeight || PAGE_H;
const SX = viewW / PAGE_W, SY = viewH / PAGE_H;
const DPR = window.devicePixelRatio || 1;
const RENDER_RATIO = DPR * Math.max(SX, SY);

const wrapEl = document.getElementById('wrap');
wrapEl.style.transform = 'scale(' + SX + ',' + SY + ')';
document.body.style.width = viewW + 'px';
document.body.style.height = viewH + 'px';

const panels = [
  {title: stationTitles[0], obs: annapolisObs, l: annapolisRun100l, m: annapolisRun100m, col: 0, row: 0, legend: true},
  {title: stationTitles[1], obs: goosesObs, l: goosesRun100l, m: goosesRun100m, col: 1, row: 0, legend: false},
  {title: stationTitles[2], obs: potomacObs, l: potomacRun100l, m: potomacRun100m, col: 2, row: 0, legend: false},
  {title: stationTitles[3], obs: stingrayObs, l: stingrayRun100l, m: stingrayRun100m, col: 0, row: 1, legend: false},
  {title: stationTitles[4], obs: yorkObs, l: yorkRun100l, m: yorkRun100m, col: 1, row: 1, legend: false},
  {title: stationTitles[5], obs: firstLandingObs, l: firstLandingRun100l, m: firstLandingRun100m, col: 2, row: 1, legend: false}
];

const toPts = arr => arr.map(p => ({x: p[0], y: p[1]}));

function makeIcon(w, h, draw) {
  const c = document.createElement('canvas');
  c.width = w; c.height = h;
  draw(c.getContext('2d'));
  return c;
}
const obsIcon = makeIcon(14, 14, g => { g.fillStyle = '#ff0000'; g.beginPath(); g.arc(7, 7, 6, 0, Math.PI * 2); g.fill(); });
const lIcon = makeIcon(60, 8, g => { g.strokeStyle = '#00ffff'; g.lineWidth = 5; g.beginPath(); g.moveTo(0, 4); g.lineTo(60, 4); g.stroke(); });
const mIcon = makeIcon(60, 8, g => { g.strokeStyle = '#008000'; g.lineWidth = 4; g.setLineDash([16, 6]); g.beginPath(); g.moveTo(1, 4); g.lineTo(60, 4); g.stroke(); });

function roundRectPath(ctx, x, y, w, h, r) {
  ctx.beginPath();
  ctx.moveTo(x + r, y);
  ctx.lineTo(x + w - r, y); ctx.arcTo(x + w, y, x + w, y + r, r);
  ctx.lineTo(x + w, y + h - r); ctx.arcTo(x + w, y + h, x + w - r, y + h, r);
  ctx.lineTo(x + r, y + h); ctx.arcTo(x, y + h, x, y + h - r, r);
  ctx.lineTo(x, y + r); ctx.arcTo(x, y, x + r, y, r);
  ctx.closePath();
}

const placeLegend = {
  id: 'placeLegend',
  afterLayout(chart) {
    const lg = chart.legend;
    if (!lg || !lg.options.display) return;
    const a = chart.chartArea;
    lg.left = a.right - 310; lg.right = lg.left + 300;
    lg.top = a.top + 10; lg.bottom = lg.top + 200;
  }
};

const decor = {
  id: 'decor',
  afterDraw(chart, args, opts) {
    const ctx = chart.ctx, a = chart.chartArea;
    ctx.save();
    ctx.font = 'bold 31px "' + FONT + '"';
    ctx.fillStyle = '#000000';
    ctx.textAlign = 'left';
    ctx.textBaseline = 'alphabetic';
    ctx.fillText(opts.note, a.left + 90, a.top + 59);
    ctx.lineWidth = 3;
    ctx.strokeStyle = '#000000';
    ctx.strokeRect(a.left, a.top, a.right - a.left, a.bottom - a.top);
    if (opts.legendBox && chart.legend) {
      roundRectPath(ctx, a.right - 304, a.top + 14, 291, 136, 8);
      ctx.fillStyle = 'rgba(255,255,255,0.8)';
      ctx.fill();
      ctx.lineWidth = 3;
      ctx.strokeStyle = '#d0d0d0';
      ctx.stroke();
      ctx.restore();
      chart.legend.draw(a);
      return;
    }
    ctx.restore();
  }
};

panels.forEach(p => {
  const cv = document.createElement('canvas');
  cv.width = CANVAS_W; cv.height = CANVAS_H;
  cv.style.left = COL_LEFT[p.col] + 'px';
  cv.style.top = ROW_TOP[p.row] + 'px';
  cv.style.width = CANVAS_W + 'px';
  cv.style.height = CANVAS_H + 'px';
  wrapEl.appendChild(cv);

  const gridOpts = {color: GRID_COLOR, lineWidth: 2.7, tickColor: '#000000', tickWidth: 2.7, tickLength: 12, drawTicks: true};

  new Chart(cv.getContext('2d'), {
    type: 'line',
    data: {
      datasets: [
        {label: seriesNames[2], data: toPts(p.m), borderColor: '#008000', borderWidth: 4, borderDash: [16, 7], pointRadius: 0, fill: false, tension: 0},
        {label: seriesNames[1], data: toPts(p.l), borderColor: '#00ffff', borderWidth: 4.5, pointRadius: 0, fill: false, tension: 0},
        {label: seriesNames[0], data: toPts(p.obs), showLine: false, pointRadius: 6.5, pointBackgroundColor: '#ff0000', pointBorderColor: '#ff0000', pointBorderWidth: 0, borderColor: '#ff0000', backgroundColor: '#ff0000'}
      ]
    },
    options: {
      responsive: false,
      animation: false,
      devicePixelRatio: RENDER_RATIO,
      events: [],
      parsing: false,
      layout: {padding: {left: 0, top: 0, right: 40, bottom: 0}},
      scales: {
        x: {
          type: 'linear', min: 0, max: 61,
          afterBuildTicks: s => { s.ticks = xTickDays.map(v => ({value: v})); },
          afterFit: s => { s.height = 75; },
          ticks: {autoSkip: false, maxRotation: 0, minRotation: 0, color: '#000000', padding: 6.6,
            font: {family: FONT, size: 34}, callback: v => xTickLabels[xTickDays.indexOf(v)]},
          grid: gridOpts,
          border: {display: false}
        },
        y: {
          type: 'linear', min: 0, max: 40,
          afterFit: s => { s.width = 155; },
          ticks: {stepSize: 5, color: '#000000', padding: 13, font: {family: FONT, size: 34}},
          grid: gridOpts,
          border: {display: false},
          title: {display: true, text: 'Salinity (PSU)', color: '#000000', font: {family: FONT, size: 34}, padding: {top: 29.6, bottom: 0}}
        }
      },
      plugins: {
        title: {display: true, text: p.title, color: '#000000', fullSize: false,
          font: {family: FONT, size: 38, weight: 'normal', lineHeight: 1.2}, padding: {top: 32, bottom: 10.4}},
        tooltip: {enabled: false},
        legend: {
          display: p.legend,
          position: 'chartArea',
          labels: {
            usePointStyle: true,
            pointStyleWidth: 62,
            boxHeight: 27,
            padding: 14.5,
            color: '#000000',
            font: {family: FONT, size: 27},
            generateLabels: () => [
              {text: seriesNames[0], pointStyle: obsIcon, fontColor: '#000000', fillStyle: '#ff0000', strokeStyle: '#ff0000', lineWidth: 0, hidden: false, datasetIndex: 2},
              {text: seriesNames[1], pointStyle: lIcon, fontColor: '#000000', fillStyle: '#00ffff', strokeStyle: '#00ffff', lineWidth: 0, hidden: false, datasetIndex: 1},
              {text: seriesNames[2], pointStyle: mIcon, fontColor: '#000000', fillStyle: '#008000', strokeStyle: '#008000', lineWidth: 0, hidden: false, datasetIndex: 0}
            ]
          }
        },
        decor: {note: noteText, legendBox: p.legend}
      }
    },
    plugins: [placeLegend, decor]
  });
});
</script>
</body>
</html>
